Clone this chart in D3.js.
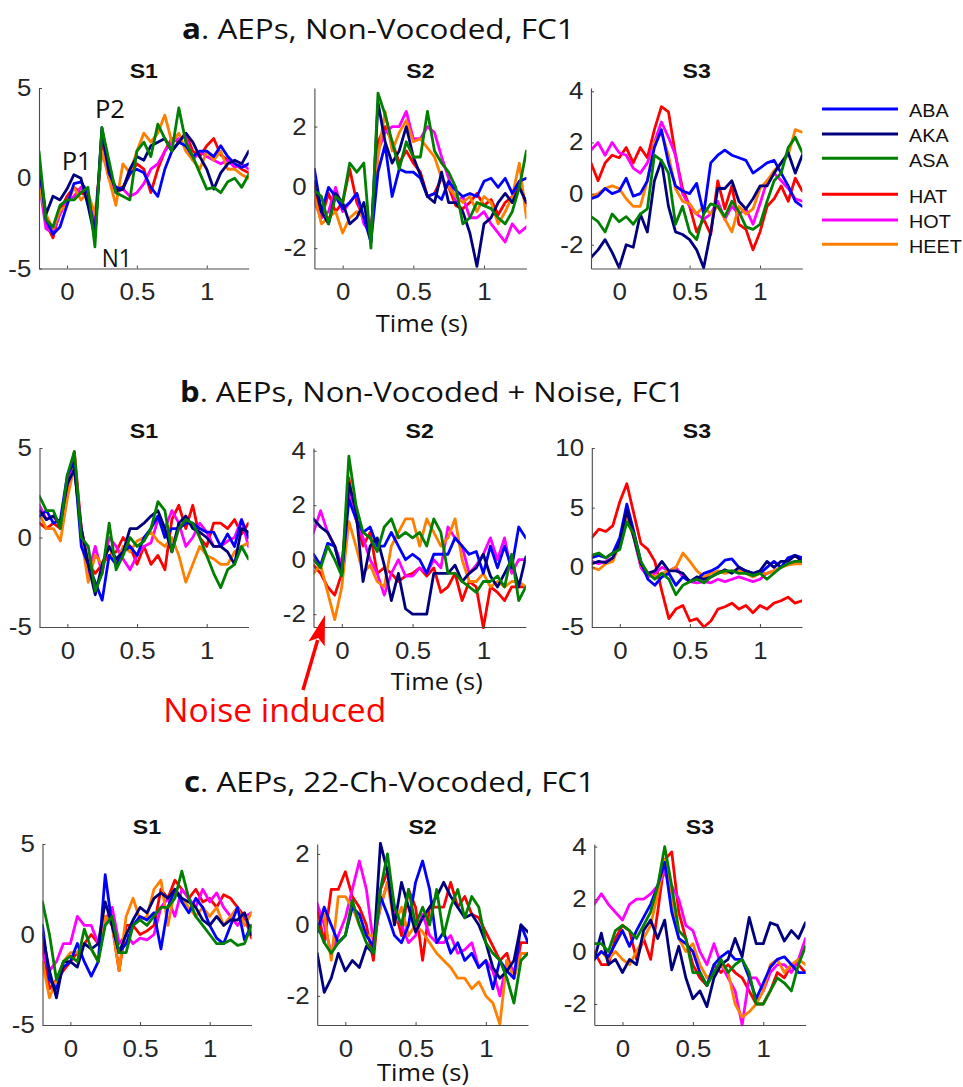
<!DOCTYPE html>
<html><head><meta charset="utf-8">
<script src="https://cdn.jsdelivr.net/npm/d3@7"></script>
<style>body{margin:0;background:#fff}</style>
</head><body>
<svg id="chart" width="963" height="1087"></svg>
<script>
// ---------- categories / ticks ----------
const time = [-0.2,-0.15,-0.1,-0.05,0,0.05,0.1,0.15,0.2,0.25,0.3,0.35,0.4,0.45,0.5,0.55,0.6,0.65,0.7,0.75,0.8,0.85,0.9,0.95,1.0,1.05,1.1,1.15,1.2,1.25,1.3];
const conditions = ["ABA","AKA","ASA","HAT","HOT","HEET"];
const drawOrder = ["HAT","HOT","HEET","ABA","AKA","ASA"];
const colors = {ABA:"#0000ff",AKA:"#00007f",ASA:"#008000",HAT:"#ff0000",HOT:"#ff00ff",HEET:"#ff8000"};
const subjects = ["S1","S2","S3"];
const rowLetters = ["a","b","c"];
const rowTitles = [". AEPs, Non-Vocoded, FC1", ". AEPs, Non-Vocoded + Noise, FC1", ". AEPs, 22-Ch-Vocoded, FC1"];
const xTicks = [0,0.5,1];
const yTicks = [[[-5,0,5],[-2,0,2],[-2,0,2,4]],[[-5,0,5],[-2,0,2,4],[-5,0,5,10]],[[-5,0,5],[-2,0,2],[-2,0,2,4]]];
const yDomains = [[[-5,5],[-2.67,3.27],[-2.93,4.13]],[[-5,5],[-2.47,4.1],[-5,10]],[[-5,5],[-2.82,2.28],[-2.8,4.1]]];

// ---------- series values (µV) ----------
const a_S1 = {
 ABA:[0.8,-2.3,-3.1,-2.7,-1.5,-0.3,-0.2,-0.8,-3.2,2.6,0.3,-0.5,-0.6,0.3,0.5,0.3,-0.5,-1.0,0.5,1.5,2.0,1.8,1.2,1.5,1.5,1.2,1.8,1.2,0.8,0.6,0.8],
 AKA:[0.8,-2.0,-1.0,-1.2,-0.6,0.2,0.0,-1.5,-3.3,2.8,0.5,-0.7,-0.6,0.5,1.2,1.0,1.8,2.0,2.2,1.5,2.0,2.5,2.0,1.2,0.5,-0.6,0.3,0.8,1.0,0.8,1.5],
 ASA:[1.5,-2.3,-2.7,-1.5,-1.2,-1.2,-0.8,-0.5,-3.8,2.8,1.0,-0.8,-1.0,-1.2,1.5,2.0,1.2,3.0,2.2,1.5,3.9,2.0,1.2,0.3,-0.6,-0.5,-0.8,-0.2,0.0,-0.5,0.2],
 HAT:[0.0,-2.5,-3.3,-1.8,-1.0,-0.5,-0.8,-1.0,-2.5,1.8,0.0,-0.5,-0.5,0.2,0.8,0.5,-0.8,0.5,1.5,2.2,2.0,2.5,1.5,1.2,1.8,2.2,1.3,1.0,0.8,0.5,0.3],
 HOT:[-0.2,-2.8,-3.0,-2.0,-1.3,-1.0,-0.5,-1.0,-2.3,1.5,0.2,-0.8,-0.6,-1.0,-0.8,-0.3,0.5,0.8,1.5,2.0,2.2,2.3,1.0,1.5,1.2,1.0,0.8,1.0,0.6,0.8,0.5],
 HEET:[-0.5,-2.0,-2.8,-1.8,-1.5,-0.5,-1.2,-0.8,-2.0,1.5,0.0,-1.5,0.8,0.3,1.5,2.5,2.0,2.5,3.5,2.0,2.5,1.5,1.0,0.5,1.5,1.0,1.5,0.5,0.5,0.2,0.0]
};
const a_S2 = {
 ABA:[0.6,-0.8,0.0,-0.3,-0.7,-0.5,-0.2,-1.0,-1.8,0.5,1.4,-0.3,0.6,0.5,0.5,0.3,-0.3,-0.2,-0.4,0.2,-0.1,-0.3,-0.2,-0.3,0.2,0.3,0.0,0.3,-0.2,0.2,0.3],
 AKA:[0.2,-0.8,-1.2,-0.2,-0.5,-1.2,-1.0,-0.5,-1.8,2.8,1.5,0.8,1.2,2.0,1.0,0.4,-0.3,-0.5,0.5,-0.5,-0.5,-0.8,-1.5,-2.6,-1.2,-1.0,-0.5,-0.2,-0.5,0.0,-0.5],
 ASA:[-0.1,-0.3,-1.2,-0.3,-0.5,0.8,0.5,0.8,-2.0,3.1,2.4,1.5,0.6,1.5,1.0,1.0,2.5,1.2,0.8,0.5,0.0,-1.2,-1.0,-0.5,-0.6,-0.7,-1.0,-1.2,-0.8,0.0,1.2],
 HAT:[0.0,-1.0,-0.2,-0.8,-0.5,0.6,-0.5,-1.0,-1.5,1.5,2.0,1.5,0.8,1.2,0.8,0.5,-0.3,-0.2,0.3,0.0,-0.6,-0.7,-0.5,-0.2,-0.6,-0.4,-0.9,-0.5,-0.3,0.2,-0.6],
 HOT:[-0.5,-1.0,-0.8,0.0,-0.8,-0.5,-0.2,-1.2,-1.5,1.2,1.8,2.0,2.0,2.5,1.6,1.6,2.0,1.8,1.0,0.3,-0.5,-0.3,-1.0,-1.0,-0.8,-1.2,-1.5,-1.8,-1.2,-1.5,-1.3],
 HEET:[-0.3,-1.2,-1.0,-0.8,-1.5,-1.0,-0.8,-1.0,-1.5,1.0,2.5,1.2,1.8,2.2,1.5,1.6,1.3,1.0,0.3,0.0,-0.3,-0.5,-0.3,-0.8,-0.3,-0.5,-1.2,-0.8,-0.3,0.8,-1.0]
};
const a_S3 = {
 ABA:[-0.2,-0.1,0.2,0.0,0.1,0.6,-0.1,0.0,0.5,1.8,2.5,1.2,0.3,0.1,0.0,0.4,-0.8,1.2,1.5,1.7,1.5,1.4,1.3,0.8,1.0,1.2,1.3,0.8,0.3,-0.3,-0.5],
 AKA:[-2.5,-2.2,-1.8,-2.3,-2.9,-2.0,-2.1,-0.8,-1.5,0.5,1.3,-0.5,-1.5,-1.6,-1.8,-2.2,-2.9,-1.5,0.2,0.2,0.5,-0.3,-0.6,-0.2,0.3,0.3,0.8,1.2,1.6,0.8,1.5],
 ASA:[-0.9,-1.1,-1.5,-0.8,-1.1,-0.9,-1.2,-0.8,-0.6,1.5,1.3,0.8,-1.2,-0.5,-1.5,-1.8,-0.8,-0.4,-0.5,-0.9,-0.3,-0.7,-1.3,-1.4,-1.2,-0.3,0.5,0.8,1.8,2.2,1.6],
 HAT:[1.2,0.5,1.2,1.5,1.4,1.8,1.2,1.8,1.4,2.5,3.4,3.2,1.5,0.2,-0.5,-1.5,-1.0,-1.6,0.5,-0.6,0.3,-1.2,-1.4,-2.2,-1.5,-0.5,-0.2,0.3,-0.3,0.6,0.1],
 HOT:[1.7,2.0,1.5,2.0,1.6,1.5,1.0,0.8,1.2,2.0,2.8,2.2,1.5,0.0,-0.5,-0.8,-1.0,-0.8,-0.3,-1.0,-0.5,-0.8,-0.6,-1.2,-0.4,0.5,0.8,0.5,0.2,-0.2,-0.3],
 HEET:[-0.1,0.0,0.2,0.3,0.2,-0.2,-0.5,-0.5,0.5,2.0,2.4,1.5,0.2,-0.3,-0.4,-0.8,-0.5,-0.8,-0.5,-1.0,-1.5,-0.5,-0.8,-0.6,0.2,0.5,0.9,1.2,1.5,2.5,2.4]
};
const b_S1 = {
 ABA:[1.2,1.5,0.8,1.0,3.5,4.2,-0.5,-1.5,-2.5,-3.5,-1.0,-1.5,-0.8,-0.5,-1.0,0.0,0.5,1.2,0.0,0.5,0.5,0.8,0.8,0.5,0.3,0.3,-0.5,0.2,-0.5,1.0,0.0],
 AKA:[1.5,1.0,1.2,0.8,3.0,3.8,0.5,-1.5,-3.2,-1.5,-0.5,-1.2,-0.8,0.5,0.5,0.8,1.2,1.5,0.5,-0.8,0.8,1.2,0.5,0.3,0.0,-0.5,-0.5,-0.8,-1.5,0.5,0.3],
 ASA:[2.3,1.5,1.5,0.5,3.5,4.8,0.0,-0.5,-3.0,-2.0,0.8,-1.8,-1.0,0.0,-0.5,-0.2,0.5,2.0,1.5,-0.8,0.5,1.0,0.8,0.0,-1.0,-2.0,-2.8,-1.8,-1.5,-0.5,-1.2],
 HAT:[0.8,0.5,0.8,0.5,2.8,4.8,0.5,-1.5,-2.0,-1.5,-1.0,-0.8,0.0,-0.5,-1.5,-0.5,-1.5,-1.0,-1.8,1.0,1.8,0.5,1.8,0.0,-0.5,0.8,0.8,0.5,1.0,0.2,0.8],
 HOT:[1.8,1.0,1.2,0.6,3.0,4.3,0.5,-2.0,-0.5,-2.0,0.0,-0.5,-1.2,-1.8,-1.0,-0.5,-0.3,1.0,0.5,1.5,0.8,-0.5,0.0,0.8,0.3,-0.5,-0.5,-0.2,0.0,1.0,-0.5],
 HEET:[1.3,0.5,0.5,-0.2,2.2,4.0,0.0,-2.5,-1.0,-1.5,-0.5,-1.5,-0.5,-0.8,-0.2,0.0,0.3,-0.2,-0.5,0.0,-1.0,-2.5,-1.5,-0.5,-1.0,-1.2,-1.5,-1.5,-0.8,-0.5,-0.3]
};
const b_S2 = {
 ABA:[0.2,-0.2,0.6,0.5,-0.5,2.2,1.5,1.0,1.2,0.5,0.5,1.0,0.5,0.0,0.2,0.0,-0.5,0.2,0.2,0.2,0.8,0.5,0.2,0.3,-0.5,0.5,-0.3,0.5,-0.3,1.2,0.8],
 AKA:[1.5,1.2,1.0,0.5,-0.5,2.8,1.8,-0.8,0.5,0.8,-0.2,-1.5,-0.5,-1.8,-2.0,-2.0,-2.0,-0.5,-0.5,-0.5,-0.2,-0.8,-0.5,-0.3,0.2,-0.6,-1.0,-0.5,0.0,-1.0,0.1],
 ASA:[0.0,-0.3,0.5,0.0,-0.6,3.8,2.0,1.0,0.8,0.3,1.2,1.5,0.8,1.0,0.8,1.0,0.5,1.5,1.0,-0.5,-0.5,-0.8,-1.0,-1.2,-0.8,-0.8,-0.6,-1.0,0.2,-1.5,-1.0],
 HAT:[-0.2,-0.5,-1.0,-1.3,-0.5,3.0,1.5,0.5,1.0,-0.5,-0.3,-0.5,-0.8,-0.6,-0.5,-0.3,-0.6,-0.3,-1.2,-1.0,-0.5,-1.5,-0.8,-1.0,-2.5,-1.0,-1.2,-1.5,-1.0,-1.0,-1.0],
 HOT:[1.0,1.8,1.0,0.5,-0.2,2.5,1.5,0.8,0.0,-0.5,-1.3,-0.5,0.0,-0.6,-0.6,-0.3,-0.5,0.0,-0.3,1.2,0.8,0.5,-0.5,-0.2,0.2,0.8,0.0,0.8,-0.5,0.0,0.0],
 HEET:[-0.5,-0.2,-1.2,-2.2,-1.0,1.4,0.5,-0.5,-0.2,-0.8,-1.0,0.5,1.0,1.5,1.5,0.5,1.5,1.0,0.5,0.8,1.5,0.0,-0.8,-0.8,-0.5,-1.0,-0.8,-1.0,-0.8,-0.8,-1.0]
};
const b_S3 = {
 ABA:[0.8,1.0,0.8,1.2,2.5,5.3,3.0,0.5,-1.0,-1.5,-0.8,-0.5,-1.5,-0.8,-1.2,-1.0,-0.5,-0.3,0.0,0.6,0.7,0.0,-0.3,-0.5,-0.5,0.0,0.5,0.0,0.8,1.0,0.8],
 AKA:[0.3,0.5,0.4,0.8,2.0,4.8,2.5,0.3,-0.5,-0.3,0.5,-0.3,-0.3,-0.5,-1.2,-0.8,-1.0,-0.8,-0.5,-0.2,-0.5,0.0,-0.3,-0.5,-0.3,0.5,0.0,0.5,0.5,1.0,0.5],
 ASA:[1.0,1.2,0.8,1.2,1.5,3.8,2.8,0.5,-0.5,-1.0,-0.5,-1.0,-2.3,-1.5,-1.2,-1.0,-1.3,-0.8,-0.5,-0.3,-0.3,-0.5,-0.5,-0.7,-0.5,-1.0,-0.5,0.0,0.3,0.5,0.5],
 HAT:[2.5,3.2,3.0,3.5,5.5,7.0,4.5,2.0,1.5,0.5,-2.0,-4.3,-3.5,-3.2,-4.5,-4.3,-5.0,-4.5,-3.5,-3.3,-3.0,-3.5,-3.2,-3.8,-3.2,-3.5,-3.0,-2.8,-2.5,-3.0,-2.8],
 HOT:[0.5,0.3,0.5,0.8,2.0,4.5,2.5,0.0,-0.8,-0.5,0.0,-0.3,0.0,-0.8,-1.2,-1.3,-1.2,-1.3,-1.0,-1.2,-1.0,-0.8,-1.0,-1.2,-1.0,-0.5,-0.3,0.0,0.3,0.5,0.5],
 HEET:[0.0,-0.2,0.3,0.5,2.0,4.2,2.5,0.2,-0.5,-0.8,-0.5,-0.3,0.0,1.2,0.5,-0.3,-0.8,-0.5,-0.3,-0.5,-0.3,-0.3,-0.5,-0.8,-0.5,-0.5,-0.3,0.0,0.2,0.3,0.3]
};
const c_S1 = {
 ABA:[0.5,-2.5,-3.0,-1.8,-1.5,-0.5,-1.5,-2.3,-1.5,3.3,0.5,-1.0,-0.5,0.5,1.0,0.8,1.2,-0.8,1.5,2.5,1.8,1.2,2.0,1.5,0.5,-0.2,-0.5,0.5,1.5,-0.3,0.5],
 AKA:[0.0,-2.0,-3.5,-1.5,-1.5,-1.8,-0.5,-0.8,-0.5,1.8,0.5,-1.0,0.0,0.8,1.5,1.2,2.0,2.3,2.0,2.5,2.0,1.8,1.5,0.8,0.5,1.0,0.5,0.8,0.8,1.2,0.0],
 ASA:[1.8,0.0,-2.5,-1.5,-1.2,-1.5,0.3,-0.8,-1.5,0.5,1.0,-1.0,-1.0,0.5,0.8,0.5,1.0,1.5,1.5,2.0,3.5,2.0,1.0,0.5,0.0,-0.5,-0.5,-0.3,-0.6,-0.5,0.5],
 HAT:[-0.5,-3.0,-2.5,-2.0,-1.5,-1.0,-0.5,0.0,-0.5,1.0,0.5,-2.0,0.5,0.5,0.0,0.2,0.5,2.5,2.0,3.0,2.5,2.0,2.5,1.8,2.0,1.5,2.2,2.0,1.5,1.0,-0.2],
 HOT:[-1.0,-2.0,-1.5,-0.5,-0.5,1.0,0.5,0.5,-0.5,0.8,1.5,-0.5,0.0,-0.5,-0.2,-0.3,0.0,1.5,2.0,1.0,2.5,2.0,1.5,2.5,1.8,2.3,1.5,1.0,0.5,1.0,1.2],
 HEET:[-1.5,-3.5,-2.5,-1.5,-1.0,-1.0,-0.5,-0.8,-1.5,1.0,0.5,-2.0,1.0,2.0,0.8,1.0,2.5,3.0,0.5,2.5,2.0,1.5,1.0,1.5,1.0,1.5,0.5,1.0,1.5,0.5,1.2]
};
const c_S2 = {
 ABA:[-0.2,0.5,0.0,-0.5,-0.3,0.5,0.3,-0.3,-0.6,0.8,0.3,-0.3,-0.5,0.0,1.2,1.8,1.0,-0.5,-0.2,-0.8,-0.5,-1.0,-0.8,-1.2,-1.0,-1.8,-1.0,-1.3,-1.5,0.0,-0.5],
 AKA:[-0.8,-1.9,-1.5,-0.8,-1.3,-1.0,-1.2,-0.6,-0.8,2.3,1.5,0.0,1.2,0.5,-0.2,0.2,0.5,0.8,1.2,0.8,0.5,0.2,0.3,0.0,-0.5,-1.2,-1.5,-1.3,-1.0,0.0,-0.2],
 ASA:[0.0,-0.5,-0.8,-0.5,-0.3,0.7,0.0,-0.5,-0.8,1.0,2.0,0.5,0.0,1.0,0.0,0.5,0.0,1.0,-0.3,0.5,1.0,0.2,0.8,0.5,-0.5,-0.8,-1.0,-1.5,-2.2,-1.0,-0.8],
 HAT:[0.5,-0.5,1.0,1.0,1.5,0.8,0.5,0.0,-1.0,1.0,1.5,0.5,-0.3,1.0,0.5,-1.0,0.5,0.5,0.5,1.2,0.5,0.8,0.3,0.2,-0.2,-0.6,-1.0,-0.8,-1.5,-0.5,-0.5],
 HOT:[0.6,0.0,-0.8,-0.3,0.2,1.0,1.8,1.0,-0.5,0.5,1.2,0.3,0.0,-0.5,-0.3,0.3,-0.3,-0.5,-0.5,-0.3,-0.8,-0.7,-0.5,-1.2,-1.0,-1.3,-2.0,-1.0,-1.3,-0.8,-0.8],
 HEET:[0.0,0.3,-1.0,0.8,0.8,0.5,0.0,-0.3,-0.3,0.5,1.2,0.0,0.5,-0.3,0.0,-0.2,-0.5,-0.8,-1.0,-1.2,-1.5,-1.5,-1.8,-1.6,-2.0,-2.2,-2.8,-1.0,-1.5,-0.8,-0.8]
};
const c_S3 = {
 ABA:[-0.3,0.0,-0.2,0.3,0.8,0.2,0.8,1.3,1.8,2.5,3.4,1.5,0.5,0.3,0.0,-0.8,-1.3,-0.5,-0.2,0.0,-0.3,-0.3,-1.0,-1.8,-1.2,-0.6,-0.3,-0.2,-0.5,-0.8,-0.8],
 AKA:[-0.3,0.7,-0.5,-0.3,-0.8,-0.3,-0.5,0.8,1.2,0.5,1.2,-0.7,0.2,-1.0,-1.8,-1.5,-2.1,-1.0,-0.5,-0.3,0.5,-0.2,1.3,0.3,0.3,1.1,1.0,0.4,0.8,0.5,1.1],
 ASA:[0.3,0.3,0.0,0.8,1.0,0.8,0.5,1.0,1.5,2.5,4.0,2.5,0.8,0.5,-0.8,-0.8,-1.3,-0.8,-0.3,-0.8,-0.5,-0.3,-0.8,-2.0,-2.0,-1.5,-1.0,-1.2,-1.5,-0.5,0.2],
 HAT:[0.0,-0.5,-0.5,0.5,1.0,0.8,-0.3,0.5,-0.3,1.5,3.5,3.8,1.5,0.5,-0.5,-1.0,-1.3,-0.5,-0.8,-0.5,-0.8,-1.0,-1.5,-2.0,-2.0,-1.5,-0.8,-1.0,-0.5,-0.5,-0.8],
 HOT:[1.8,2.2,1.8,1.5,1.2,1.8,2.0,2.0,2.2,2.5,3.0,2.5,2.0,1.0,0.8,0.0,-0.5,0.3,-0.5,-1.0,-1.5,-2.8,-1.0,-1.0,-1.5,-0.8,-0.5,-0.5,-0.8,-0.3,0.5],
 HEET:[-0.3,0.0,-0.3,0.0,-0.3,-0.5,0.0,0.5,1.0,2.2,3.5,2.0,0.5,0.0,0.3,-0.5,-1.0,-0.8,-0.5,-0.8,-2.0,-2.5,-2.3,-2.0,-1.5,-0.5,-0.3,-0.8,-0.5,-0.3,-0.5]
};
const panelData = [[a_S1,a_S2,a_S3],[b_S1,b_S2,b_S3],[c_S1,c_S2,c_S3]];

// ---------- layout (pixels) ----------
const rows = [
  {top:88,  bottom:268.5, xs:[[39,248.7],[314.4,526.4],[591,802.3]],   titleX:182, titleW:393, titleY:39,    timeX:421.7, timeY:331.7},
  {top:448, bottom:627,   xs:[[39.5,248.5],[313.5,525.8],[591.8,802]], titleX:180, titleW:505, titleY:401.7, timeX:436.7, timeY:690},
  {top:844, bottom:1025,  xs:[[42.5,251.5],[317.2,528],[594.3,805.5]], titleX:184, titleW:411, titleY:791.7, timeX:423,   timeY:1080.5}
];
const TEXT = "#262626";
const AXIS = "#4a4a4a";
const tickFont = "'Liberation Sans', Arial, sans-serif";
const titleFont = "'Open Sans', 'Noto Sans', sans-serif";
const SX = 1.1;

const svg = d3.select("#chart");
const defs = svg.append("defs");

function stretchText(sel, x, y, target) {
  sel.attr("x",0).attr("y",0);
  const w = sel.node().getComputedTextLength();
  const s = target ? target / w : SX;
  sel.attr("transform", `translate(${x},${y}) scale(${s},1)`);
}

rows.forEach((row, r) => {
  // row title
  const t = svg.append("text").attr("font-family", titleFont).attr("font-size", 28).attr("fill", "#111");
  t.append("tspan").attr("font-weight", "bold").text(rowLetters[r]);
  t.append("tspan").text(rowTitles[r]);
  stretchText(t, row.titleX, row.titleY, row.titleW);

  subjects.forEach((subj, c) => {
    const [x0, x1] = row.xs[c];
    const x = d3.scaleLinear().domain([time[0], time[time.length-1]]).range([x0, x1]);
    const y = d3.scaleLinear().domain(yDomains[r][c]).range([row.bottom, row.top]);
    const g = svg.append("g");

    const clipId = `clip-${r}-${c}`;
    defs.append("clipPath").attr("id", clipId).append("rect")
      .attr("x", x0).attr("y", row.top - 2).attr("width", x1 - x0).attr("height", row.bottom - row.top + 4);

    // data lines
    const line = d3.line().x((d, i) => x(time[i])).y(d => y(d)).curve(d3.curveLinear);
    const data = panelData[r][c];
    const lg = g.append("g").attr("clip-path", `url(#${clipId})`);
    drawOrder.forEach(cond => {
      lg.append("path").datum(data[cond]).attr("d", line)
        .attr("fill", "none").attr("stroke", colors[cond]).attr("stroke-width", 2.8)
        .attr("stroke-linejoin", "round").attr("stroke-linecap", "round");
    });

    // axes
    const xa = g.append("g").attr("transform", `translate(0,${row.bottom})`)
      .call(d3.axisBottom(x).tickValues(xTicks).tickFormat(d => String(d)).tickSizeInner(-3).tickSizeOuter(0).tickPadding(15));
    const ya = g.append("g").attr("transform", `translate(${x0},0)`)
      .call(d3.axisLeft(y).tickValues(yTicks[r][c]).tickFormat(d => String(d)).tickSizeInner(-3).tickSizeOuter(0).tickPadding(7));
    [xa, ya].forEach(a => {
      a.select(".domain").attr("stroke", AXIS).attr("stroke-width", 1.1);
      a.selectAll(".tick line").attr("stroke", AXIS).attr("stroke-width", 1);
      a.selectAll(".tick text").attr("font-family", tickFont).attr("font-size", 23.5).attr("fill", TEXT)
        .attr("transform", `scale(${SX},1)`);
    });
    xa.selectAll(".tick text").attr("x", 0);

    // subplot title
    const st = svg.append("text").attr("font-family", tickFont).attr("font-weight", "bold")
      .attr("font-size", 21).attr("fill", "#111").attr("text-anchor", "middle").text(subj);
    stretchText(st, (x0 + x1) / 2, row.top - 10);
  });

  // x axis title
  const tt = svg.append("text").attr("font-family", titleFont).attr("font-size", 23)
    .attr("fill", "#111").attr("text-anchor", "middle").text("Time (s)");
  stretchText(tt, row.timeX, row.timeY, 92);
});

// ---------- peak annotations (a, S1) ----------
const peaks = [["P2", 95, 118], ["P1", 61.7, 170], ["N1", 101.7, 266.7]];
peaks.forEach(([lab, px, py]) => {
  const t = svg.append("text").attr("font-family", titleFont).attr("font-size", 25).attr("fill", "#111").text(lab);
  stretchText(t, px, py, 30);
});

// ---------- legend ----------
const legendY = [109, 134, 158.3, 194.3, 220, 244.3];
const lgd = svg.append("g");
conditions.forEach((cond, i) => {
  lgd.append("line").attr("x1", 822).attr("x2", 898).attr("y1", legendY[i]).attr("y2", legendY[i])
    .attr("stroke", colors[cond]).attr("stroke-width", 3);
  lgd.append("text").attr("font-family", tickFont).attr("font-size", 18).attr("fill", "#111")
    .attr("dy", "0.35em").text(cond)
    .attr("transform", `translate(909,${legendY[i] + 2}) scale(1.1,1)`);
});

// ---------- noise annotation ----------
const tip = [325, 615], tail = [303, 690];
const dx = tip[0] - tail[0], dy = tip[1] - tail[1], len = Math.hypot(dx, dy);
const ux = dx / len, uy = dy / len, nx = -uy, ny = ux;
const headL = 30, headW = 8.5;
const bx = tip[0] - headL * ux, by = tip[1] - headL * uy;
svg.append("line").attr("x1", tail[0]).attr("y1", tail[1]).attr("x2", bx + 4 * ux).attr("y2", by + 4 * uy)
  .attr("stroke", "#ff0000").attr("stroke-width", 3.5);
svg.append("path").attr("d", `M${tip[0]},${tip[1]} L${bx + headW * nx},${by + headW * ny} L${bx + 6 * ux},${by + 6 * uy} L${bx - headW * nx},${by - headW * ny} Z`)
  .attr("fill", "#ff0000");
const nt = svg.append("text").attr("font-family", titleFont).attr("font-size", 32).attr("fill", "#ff0000").text("Noise induced");
stretchText(nt, 163.3, 721.7, 223);
</script>
</body></html>
